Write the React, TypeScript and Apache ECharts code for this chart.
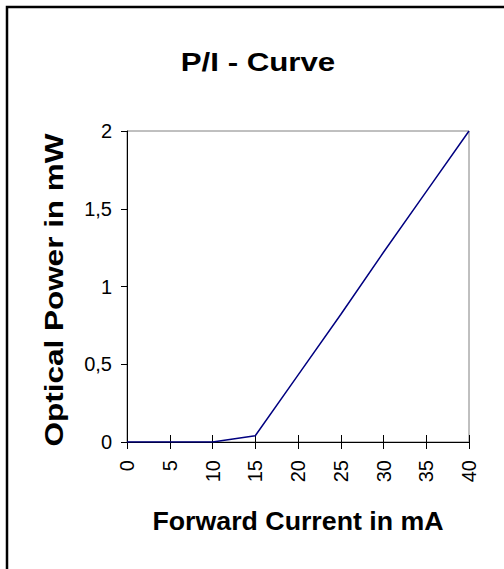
import React, { useEffect, useRef } from "react";
import * as echarts from "echarts";

const currents = [0, 5, 10, 15, 20, 25, 30, 35, 40];
const powers = [0, 0, 0, 0.04, 0.43, 0.82, 1.22, 1.61, 2.0];
const titleText = "P/I - Curve";
const xTitle = "Forward Current in mA";
const yTitle = "Optical Power in mW";

const FONT = "'Liberation Sans', Arial, sans-serif";

export default function App() {
  const ref = useRef<HTMLDivElement>(null);
  useEffect(() => {
    if (!ref.current) return;
    const chart = echarts.init(ref.current, null, { renderer: "svg" });
    const data = currents.map((c, i) => [c, powers[i]]);
    chart.setOption({
      animation: false,
      backgroundColor: "#ffffff",
      grid: {
        left: 127,
        right: 35,
        top: 131,
        bottom: 127,
        show: true,
        borderColor: "#808080",
        borderWidth: 1,
      },
      graphic: [
        {
          type: "rect",
          shape: { x: 7, y: 7, width: 600, height: 600 },
          style: { fill: "none", stroke: "#000", lineWidth: 2.5 },
          silent: true,
        },
        {
          type: "text",
          x: 258,
          y: 62,
          scaleX: 1.25,
          style: {
            text: titleText,
            fontFamily: FONT,
            fontWeight: "bold",
            fontSize: 25,
            fill: "#000",
            textAlign: "center",
            textVerticalAlign: "middle",
          },
        },
        {
          type: "text",
          x: 298,
          y: 521,
          scaleX: 1.07,
          style: {
            text: xTitle,
            fontFamily: FONT,
            fontWeight: "bold",
            fontSize: 25,
            fill: "#000",
            textAlign: "center",
            textVerticalAlign: "middle",
          },
        },
        {
          type: "text",
          x: 54,
          y: 290,
          rotation: Math.PI / 2,
          scaleX: 1.26,
          style: {
            text: yTitle,
            fontFamily: FONT,
            fontWeight: "bold",
            fontSize: 25,
            fill: "#000",
            textAlign: "center",
            textVerticalAlign: "middle",
          },
        },
      ],
      xAxis: [
        {
          type: "value",
          min: 0,
          max: 40,
          interval: 5,
          axisLine: { show: true, lineStyle: { color: "#000", width: 1 } },
          axisTick: { show: true, inside: false, length: 7, lineStyle: { color: "#000" } },
          axisLabel: {
            rotate: 90,
            margin: 18,
            fontFamily: FONT,
            fontSize: 20,
            color: "#000",
          },
          splitLine: { show: false },
        },
        {
          type: "value",
          position: "bottom",
          min: 0,
          max: 40,
          interval: 5,
          axisLine: { show: false },
          axisTick: { show: true, inside: true, length: 7, lineStyle: { color: "#000" } },
          axisLabel: { show: false },
          splitLine: { show: false },
        },
      ],
      yAxis: {
        type: "value",
        min: 0,
        max: 2,
        interval: 0.5,
        axisLine: { show: true, lineStyle: { color: "#000", width: 1 } },
        axisTick: { show: true, inside: false, length: 6, lineStyle: { color: "#000" } },
        axisLabel: {
          margin: 15,
          fontFamily: FONT,
          fontSize: 20,
          color: "#000",
          formatter: (v: number) => String(v).replace(".", ","),
        },
        splitLine: { show: false },
      },
      series: [
        {
          type: "line",
          data,
          xAxisIndex: 0,
          showSymbol: false,
          symbol: "none",
          lineStyle: { color: "#000080", width: 1.5 },
        },
      ],
    });
    return () => chart.dispose();
  }, []);
  return (
    <div
      ref={ref}
      style={{ position: "absolute", left: 0, top: 0, width: 504, height: 569 }}
    />
  );
}
